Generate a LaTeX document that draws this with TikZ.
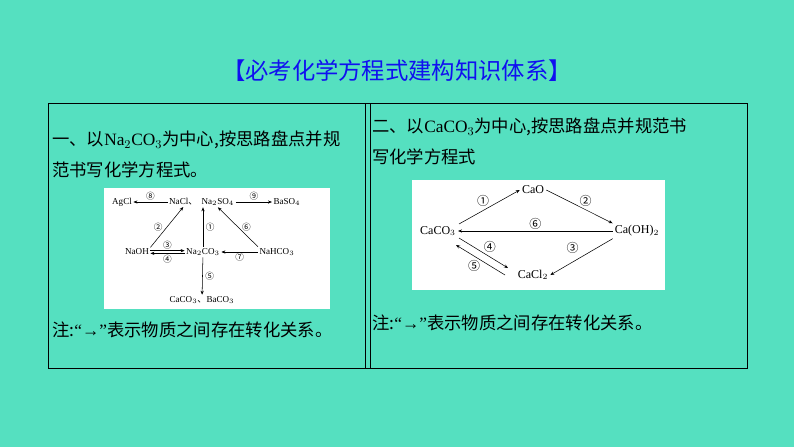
\documentclass[tikz,border=0pt]{standalone}
\usepackage{fontspec}
\setmainfont{Liberation Serif}
\newfontfamily\cjk{Noto Sans CJK SC}
\usetikzlibrary{arrows.meta}
\definecolor{bg}{HTML}{55E0C0}
\definecolor{ttl}{HTML}{1010F0}
\tikzset{
 txt/.style={anchor=west,inner sep=0pt,font=\fontsize{13}{16}\selectfont},
 sm/.style={inner sep=1pt,font=\fontsize{6.8}{8}\selectfont},
 md/.style={inner sep=1.5pt,font=\fontsize{9}{10}\selectfont},
 lab/.style={inner sep=0pt,font=\cjk\fontsize{6.5}{7}\selectfont},
 labm/.style={inner sep=0pt,font=\cjk\fontsize{9}{10}\selectfont},
 ar/.style={-{Stealth[length=3pt,width=2.4pt]},line width=0.4pt},
}
\begin{document}
\begin{tikzpicture}[x=0.75pt,y=-0.75pt]
\fill[bg] (0,0) rectangle (794,447);
\useasboundingbox (0,0) rectangle (794,447);
\node[font=\cjk\fontsize{17.5}{20}\selectfont,text=ttl] (title) at (397,71) {【必考化学方程式建构知识体系】};
\draw[line width=0.6pt] (48,103) rectangle (747,368);
\draw[line width=0.6pt] (365,103) -- (365,368) (370,103) -- (370,368);
\node[txt] (l1) at (52,140) {\cjk 一、以\rmfamily Na$_2$CO$_3$\cjk 为中心,按思路盘点并规};
\node[txt] (l2) at (52,170) {\cjk 范书写化学方程式。};
\node[txt] (l3) at (52,330) {\cjk 注:\rmfamily “→”\cjk 表示物质之间存在转化关系。};
\node[txt] (r1) at (372,127) {\cjk 二、以\rmfamily CaCO$_3$\cjk 为中心,按思路盘点并规范书};
\node[txt] (r2) at (372,157) {\cjk 写化学方程式};
\node[txt] (r3) at (372,323) {\cjk 注:\rmfamily “→”\cjk 表示物质之间存在转化关系。};
% left diagram
\fill[white] (104,188) rectangle (330,309);
\node[sm] (agcl) at (122,202) {AgCl};
\node[sm,anchor=east] (nacl) at (199,202) {NaCl\cjk 、};
\node[sm,anchor=west] (na2so4) at (200,202) {Na$_2$SO$_4$};
\node[sm] (baso4) at (287,202) {BaSO$_4$};
\node[sm] (naoh) at (137,252) {NaOH};
\node[sm] (na2co3) at (203,252) {Na$_2$CO$_3$};
\node[sm] (nahco3) at (277,252) {NaHCO$_3$};
\node[sm] (caco3l) at (202,300) {CaCO$_3$\cjk 、\rmfamily BaCO$_3$};
\draw[ar] (nacl) -- node[lab,above=1pt] {⑧} (agcl);
\draw[ar] (na2so4) -- node[lab,above=1pt] {⑨} (baso4);
\draw[ar] (naoh.north east) -- node[lab,left=3pt] {②} (nacl.south);
\draw[ar] (na2co3.north) -- node[lab,right=2pt] {①} (na2co3.north|-na2so4.south);
\draw[ar] (nahco3.north west) -- node[lab,right=3pt] {⑥} (na2so4.south);
\draw[ar] ([yshift=1pt]naoh.east) -- node[lab,above=1pt] {③} ([yshift=1pt]na2co3.west);
\draw[ar] ([yshift=-1pt]na2co3.west) -- node[lab,below=1pt] {④} ([yshift=-1pt]naoh.east);
\draw[ar] (nahco3) -- node[lab,below=1pt] {⑦} (na2co3);
\draw[ar] (na2co3) -- node[lab,right=2pt] {⑤} (caco3l);
% right diagram
\fill[white] (412,180) rectangle (665,290);
\node[md] (cao) at (533,190) {CaO};
\node[md] (caco3) at (438,231) {CaCO$_3$};
\node[md] (caoh) at (637,231) {Ca(OH)$_2$};
\node[md] (cacl2) at (533,275) {CaCl$_2$};
\draw[ar] (459,224) -- node[labm,above left=0pt] {①} (cao.west);
\draw[ar] (cao.east) -- node[labm,above right=0pt] {②} (caoh.north west);
\draw[ar] (caoh.west) -- node[labm,above=1pt] {⑥} (caco3.east);
\draw[ar] (caoh.south west) -- node[labm,above left=2pt] {③} (cacl2.east);
\draw[ar] (459,238) -- node[labm,above right=0pt] {④} (508,268);
\draw[ar] (505,275) -- node[labm,below left=0pt] {⑤} (456,245);
\end{tikzpicture}
\end{document}
